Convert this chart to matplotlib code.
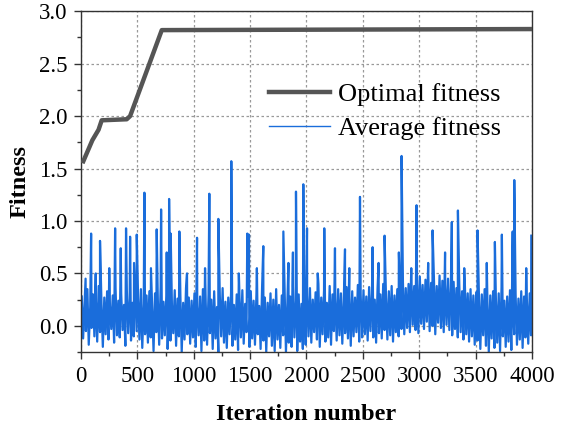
import numpy as np
import matplotlib.pyplot as plt
from matplotlib.ticker import MultipleLocator

plt.rcParams['font.family'] = ['Liberation Serif', 'DejaVu Serif']

# optimal fitness (best individual)
opt_iter = [20, 100, 155, 183, 405, 435, 716, 3990]
opt_val = [1.57, 1.77, 1.87, 1.96, 1.97, 2.00, 2.82, 2.83]

# average fitness: band upper / lower values per 25-iteration bin
bin_size = 25
avg_high = [
    0.28, 0.22, 0.35, 0.18, 0.30, 0.25, 0.38, 0.21, 0.27, 0.33, 0.19, 0.29, 0.36, 0.24, 0.31, 0.20, 0.34, 0.26, 0.22, 0.30,
    0.27, 0.35, 0.21, 0.29, 0.33, 0.18, 0.31, 0.25, 0.37, 0.23, 0.28, 0.32, 0.20, 0.34, 0.26, 0.30, 0.22, 0.36, 0.27, 0.24,
    0.31, 0.19, 0.28, 0.35, 0.22, 0.30, 0.25, 0.33, 0.18, 0.29, 0.36, 0.23, 0.27, 0.32, 0.20, 0.30, 0.26, 0.34, 0.21, 0.28,
    0.33, 0.24, 0.30, 0.19, 0.36, 0.27, 0.22, 0.31, 0.25, 0.35, 0.20, 0.29, 0.33, 0.23, 0.28, 0.38, 0.24, 0.30, 0.21, 0.34,
    0.29, 0.36, 0.25, 0.32, 0.40, 0.27, 0.34, 0.22, 0.38, 0.30, 0.26, 0.35, 0.31, 0.24, 0.37, 0.29, 0.33, 0.27, 0.39, 0.30,
    0.34, 0.28, 0.37, 0.31, 0.25, 0.36, 0.30, 0.40, 0.27, 0.33, 0.38, 0.29, 0.35, 0.31, 0.42, 0.36, 0.40, 0.45, 0.38, 0.43,
    0.47, 0.39, 0.44, 0.50, 0.41, 0.46, 0.38, 0.48, 0.43, 0.40, 0.45, 0.37, 0.42, 0.36, 0.40, 0.33, 0.38, 0.31, 0.35, 0.29,
    0.32, 0.26, 0.30, 0.35, 0.22, 0.29, 0.33, 0.25, 0.31, 0.37, 0.24, 0.28, 0.34, 0.21, 0.30, 0.26, 0.33, 0.28, 0.24, 0.31,
]
avg_low = [
    -0.12, -0.05, -0.18, -0.02, -0.10, -0.15, -0.06, -0.20, -0.08, -0.13, -0.03, -0.16, -0.09, -0.11, -0.04, -0.19, -0.07, -0.14, -0.10, -0.05,
    -0.13, -0.21, -0.08, -0.16, -0.11, -0.24, -0.06, -0.18, -0.12, -0.09, -0.22, -0.14, -0.07, -0.19, -0.10, -0.25, -0.13, -0.08, -0.17, -0.11,
    -0.20, -0.09, -0.24, -0.14, -0.18, -0.07, -0.22, -0.12, -0.25, -0.10, -0.16, -0.21, -0.08, -0.19, -0.13, -0.23, -0.11, -0.17, -0.06, -0.20,
    -0.12, -0.18, -0.08, -0.22, -0.14, -0.25, -0.10, -0.19, -0.24, -0.13, -0.21, -0.09, -0.25, -0.16, -0.20, -0.11, -0.24, -0.15, -0.22, -0.18,
    -0.10, -0.16, -0.06, -0.13, -0.20, -0.08, -0.15, -0.11, -0.18, -0.05, -0.14, -0.09, -0.17, -0.07, -0.12, -0.19, -0.10, -0.06, -0.15, -0.11,
    -0.08, -0.14, -0.05, -0.11, -0.16, -0.07, -0.12, -0.04, -0.13, -0.09, -0.15, -0.06, -0.10, -0.03, -0.08, -0.02, -0.06, 0.01, -0.04, -0.07,
    0.02, -0.03, 0.04, -0.05, 0.00, -0.08, 0.03, -0.02, -0.06, 0.01, -0.04, -0.09, -0.03, -0.11, -0.06, -0.13, -0.08, -0.15, -0.10, -0.18,
    -0.14, -0.22, -0.09, -0.19, -0.25, -0.12, -0.21, -0.16, -0.24, -0.10, -0.20, -0.15, -0.23, -0.08, -0.18, -0.13, -0.21, -0.11, -0.17, -0.09,
]

# spikes of the average fitness (iteration, value)
spike_iter = [40, 89, 130, 168, 250, 302, 352, 399, 435, 470, 494, 562, 620, 671, 710, 760, 781, 795,
              872, 940, 1029, 1100, 1138, 1218, 1333, 1400, 1475, 1490, 1560, 1617, 1795, 1840, 1880,
              1907, 1972, 2005, 2100, 2158, 2253, 2342, 2380, 2475, 2587, 2640, 2693, 2820, 2844, 2930,
              2977, 3080, 3119, 3230, 3290, 3344, 3400, 3518, 3600, 3672, 3734, 3830, 3844, 3950, 3995]
spike_val = [0.45, 0.88, 0.50, 0.81, 0.55, 0.93, 0.74, 0.93, 0.85, 0.60, 0.87, 1.27, 0.55, 0.92, 1.11, 0.70, 1.21, 0.88,
             0.90, 0.50, 0.84, 0.55, 1.26, 1.02, 1.57, 0.50, 0.88, 0.87, 0.55, 0.76, 0.90, 0.60, 0.70,
             1.28, 1.35, 0.93, 0.50, 0.93, 0.74, 0.73, 0.55, 1.23, 0.75, 0.60, 0.86, 0.70, 1.62, 0.55,
             1.15, 0.60, 0.91, 0.70, 0.99, 1.10, 0.55, 0.91, 0.60, 0.80, 0.87, 0.90, 1.39, 0.55, 0.86]

# build the average series (zigzag inside each bin, spikes merged in)
bins = np.arange(len(avg_high))
xs = np.concatenate([bins * bin_size + 6, bins * bin_size + 18, spike_iter])
ys = np.concatenate([avg_high, avg_low, spike_val])
order = np.argsort(xs, kind='stable')
xs, ys = xs[order], ys[order]

fig = plt.figure(figsize=(5.67, 4.32), dpi=100)
ax = fig.add_axes([0.143, 0.185, 0.795, 0.789])

ax.plot(xs, ys, color='#1a6ddb', lw=1.6, label='Average fitness', zorder=2)
ax.plot(opt_iter, opt_val, color='#555555', lw=3.2, label='Optimal fitness', zorder=3)

ax.set_xlim(0, 4000)
ax.set_ylim(-0.25, 3.0)
ax.xaxis.set_major_locator(MultipleLocator(500))
ax.xaxis.set_minor_locator(MultipleLocator(250))
ax.yaxis.set_major_locator(MultipleLocator(0.5))
ax.yaxis.set_minor_locator(MultipleLocator(0.25))
ax.tick_params(which='both', direction='out', labelsize=16.5, color='#333333', pad=5)
ax.tick_params(which='major', length=5, width=1)
ax.tick_params(which='minor', length=3, width=1)
for s in ax.spines.values():
    s.set_color('#333333')
    s.set_linewidth(1)
ax.grid(True, which='major', ls=(0, (2, 2)), color='#999999', lw=0.9, zorder=0)
ax.set_axisbelow(True)

ax.set_xlabel('Iteration number', fontsize=17.5, fontweight='bold', labelpad=12)
ax.set_ylabel('Fitness', fontsize=17.5, fontweight='bold', labelpad=6)

h, l = ax.get_legend_handles_labels()
ax.legend(h[::-1], l[::-1], loc='upper left', bbox_to_anchor=(0.417, 0.79), frameon=False,
          fontsize=19, handlelength=2.3, handletextpad=0.3, labelspacing=0.4,
          borderpad=0, borderaxespad=0)
ax.get_legend().get_lines()[1].set_linewidth(1.0)

fig.savefig('out.png', dpi=100)
